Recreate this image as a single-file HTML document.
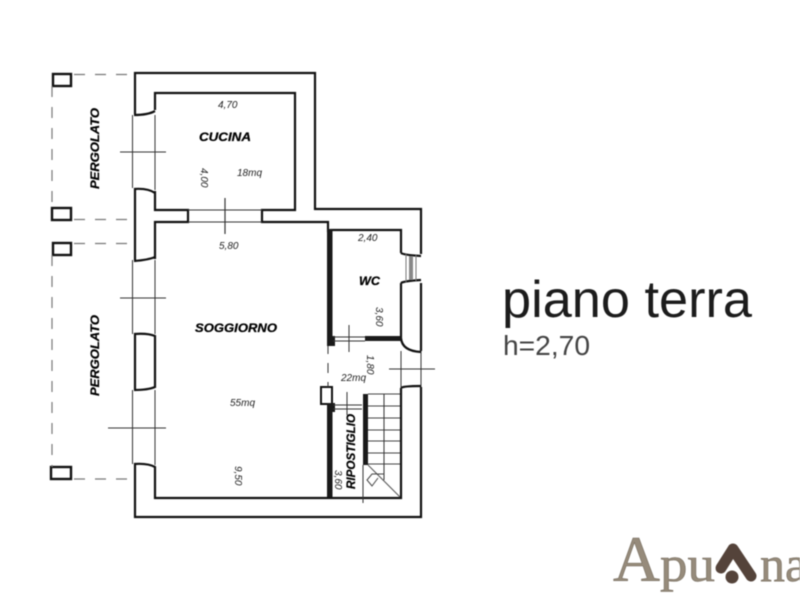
<!DOCTYPE html>
<html><head><meta charset="utf-8"><style>
html,body{margin:0;padding:0;background:#fff;width:800px;height:600px;overflow:hidden}
svg{display:block;filter:blur(.4px)}
text{font-family:"Liberation Sans",sans-serif}
.l{font-weight:bold;font-style:italic;fill:#000;stroke:#000;stroke-width:.25}
.d{font-style:italic;font-size:10px;fill:#222}
</style></head><body>
<svg width="800" height="600" viewBox="0 0 800 600">
<g fill="none" stroke="#111" stroke-width="2.2">
<!-- outer wall -->
<path d="M135 114V73H315V209H421V254"/>
<path d="M421 283V351M421 387V517H135V463"/>
<path d="M135 333V390"/>
<path d="M135 188V260"/>
<!-- inner kitchen -->
<path d="M155 110V93H295V210H262V222H328V232"/>
<path d="M155 191V210H188V222H155V259"/>
<!-- window corners -->
<path d="M134 115Q148 115 155 111"/>
<path d="M134 189Q148 188 155 193"/>
<path d="M134 261Q148 260 155 257"/>
<path d="M134 334Q148 333 155 336V387Q148 390 134 390"/>
<path d="M134 464Q148 463 155 467V498H328"/>
<!-- wc -->
<path d="M330 230H401V253"/>
<path d="M401 253Q404 255 421 256M401 283Q404 281 421 280"/>
<path d="M401 283V338Q402 351 421 352"/>
<path d="M401 388Q403 386 421 386M401 388V498H328"/>
<path d="M321 387H332V404H321Z" stroke-width="2"/>
</g>
<!-- thick walls -->
<g fill="#1a1a1a">
<rect x="327" y="229" width="5.500" height="117"/>
<rect x="327" y="336" width="8" height="10"/>
<rect x="365" y="336" width="36" height="5"/>
<rect x="327" y="404" width="5.500" height="93"/>
<rect x="327" y="403" width="8" height="9"/>
<rect x="363" y="394" width="5" height="71"/>
</g>
<!-- thin lines -->
<g fill="none" stroke="#333" stroke-width="1">
<path d="M132.500 115V188M155 115V190M132.500 260V334M155 260V334M132.500 390V464M155 390V465"/>
<path d="M120 152H166M120 298H166M108 428H166"/>
<path d="M188 210H262M188 222H262"/>
<path d="M225 198V234" stroke-width="1.200"/>
<path d="M333 337H365M333 341H365"/>
<path d="M349 325V352"/>
<path d="M389 369H435M401 351V388M421 351V387" />
<path d="M333 405H362M333 409H362"/>
<path d="M347 392V415"/>
<path d="M363 465V503"/>
<path d="M368 394H400M368 406H400M368 418H400M368 430H400M368 441H400M368 453H400M368 464H400" stroke="#444"/>
<path d="M384 394V480"/>
<path d="M368 465L400 497" stroke="#555"/>
<path d="M384 474H372L367 480L372 486L378 478" stroke="#444"/>
<path d="M328 346V354M328 363V387" stroke-dasharray="10 9"/>
<path d="M411 256V280" stroke="#888" stroke-width="4"/>
<path d="M406 254V282M416 255V281" stroke="#777"/>
</g>
<!-- pergola posts -->
<g fill="#fff" stroke="#111" stroke-width="2.400">
<rect x="53" y="74" width="18" height="12"/>
<rect x="52" y="208" width="19" height="12"/>
<rect x="53" y="243" width="18" height="12"/>
<rect x="51" y="467" width="20" height="12"/>
</g>
<g fill="none" stroke="#777" stroke-width="1.200" stroke-dasharray="11 10">
<path d="M74 74.500H130"/>
<path d="M74 219.500H132"/>
<path d="M74 243.500H133"/>
<path d="M74 479H134"/>
<path d="M52 86V208"/>
<path d="M52 255V467"/>
</g>
<!-- labels -->
<text class="l" x="199" y="141" font-size="12" textLength="52" lengthAdjust="spacingAndGlyphs">CUCINA</text>
<text class="l" x="195" y="332" font-size="12" textLength="82" lengthAdjust="spacingAndGlyphs">SOGGIORNO</text>
<text class="l" x="359" y="285" font-size="12" textLength="21" lengthAdjust="spacingAndGlyphs">WC</text>
<text class="l" font-size="12" transform="translate(99,189) rotate(-90)" textLength="81" lengthAdjust="spacingAndGlyphs">PERGOLATO</text>
<text class="l" font-size="12" transform="translate(99,396) rotate(-90)" textLength="81" lengthAdjust="spacingAndGlyphs">PERGOLATO</text>
<text class="l" font-size="12" transform="translate(355,489) rotate(-90)" textLength="75" lengthAdjust="spacingAndGlyphs">RIPOSTIGLIO</text>
<text class="d" x="218" y="108">4,70</text>
<text class="d" x="219" y="249">5,80</text>
<text class="d" x="358" y="241">2,40</text>
<text class="d" x="237" y="176">18mq</text>
<text class="d" x="230" y="406">55mq</text>
<text class="d" x="341" y="381">22mq</text>
<text class="d" transform="translate(201,168) rotate(90)">4,00</text>
<text class="d" transform="translate(235,466) rotate(90)">9,50</text>
<text class="d" transform="translate(376,307) rotate(90)">3,60</text>
<text class="d" transform="translate(367,355) rotate(90)">1,80</text>
<text class="d" transform="translate(335,470) rotate(90)">3,60</text>
<!-- title -->
<text x="502" y="317" font-size="52" fill="#1c1c1c" textLength="250" lengthAdjust="spacingAndGlyphs">piano terra</text>
<text x="503" y="355" font-size="28" fill="#444" textLength="87" lengthAdjust="spacingAndGlyphs">h=2,70</text>
<!-- logo -->
<g fill="#968b7b" stroke="#6f6658" stroke-width=".5">
<text x="613" y="581" font-size="65" style="font-family:'Liberation Serif',serif">A</text>
<text x="660" y="581" font-size="50" style="font-family:'Liberation Serif',serif" textLength="55" lengthAdjust="spacingAndGlyphs">pu</text>
<text x="760" y="581" font-size="50" style="font-family:'Liberation Serif',serif">na</text>
</g>
<path d="M721 568L733 549L751 576" fill="none" stroke="#54433a" stroke-width="11" stroke-linecap="round" stroke-linejoin="round"/>
<circle cx="732" cy="577" r="6.500" fill="#54433a"/>
</svg>
</body></html>
